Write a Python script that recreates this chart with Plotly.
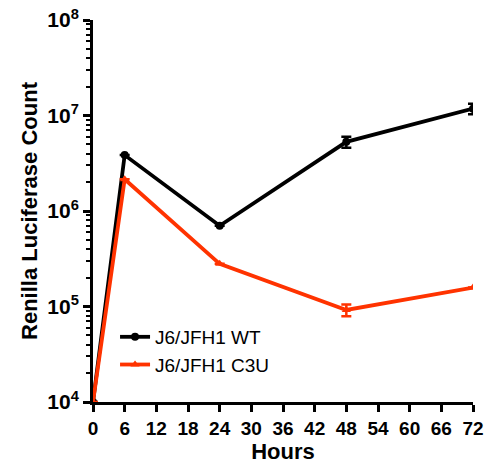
import plotly.graph_objects as go

hours = [0, 6, 24, 48, 72]
wt = [1e4, 3.85e6, 7.0e5, 5.3e6, 1.18e7]
wt_err = [0, 0, 0, 0.7e6, 1.5e6]
c3u = [1e4, 2.15e6, 2.8e5, 9.2e4, 1.58e5]
c3u_err = [0, 0, 0, 1.3e4, 0]
x_ticks = list(range(0, 73, 6))
y_tickvals = [1e4, 1e5, 1e6, 1e7, 1e8]
y_ticktext = ["10<sup>4</sup>", "10<sup>5</sup>", "10<sup>6</sup>", "10<sup>7</sup>", "10<sup>8</sup>"]
y_minor = [m * 10 ** d for d in range(4, 8) for m in range(2, 10)]

fig = go.Figure()
fig.add_trace(go.Scatter(
    x=hours, y=wt, name="J6/JFH1 WT", mode="lines+markers",
    line=dict(color="black", width=3.8),
    marker=dict(symbol="circle", size=8, color="black"),
    error_y=dict(type="data", array=wt_err, color="black", thickness=2.5, width=5),
))
fig.add_trace(go.Scatter(
    x=hours, y=c3u, name="J6/JFH1 C3U", mode="lines+markers",
    line=dict(color="#ff3300", width=3.8),
    marker=dict(symbol="triangle-up", size=8, color="#ff3300"),
    error_y=dict(type="data", array=c3u_err, color="#ff3300", thickness=2.5, width=5),
))

fig.update_layout(
    width=490, height=466,
    margin=dict(l=93, r=17, t=20, b=64),
    plot_bgcolor="white", paper_bgcolor="white",
    font=dict(family="Liberation Sans, Arial", color="black"),
    legend=dict(x=0.058, y=0.22, xanchor="left", yanchor="top",
                font=dict(size=19, color="black"), bgcolor="rgba(0,0,0,0)",
                itemwidth=30, tracegroupgap=18),
)
fig.update_xaxes(
    range=[0, 72], tickvals=x_ticks, showgrid=False, zeroline=False,
    showline=True, linecolor="black", linewidth=3, automargin=False,
    ticks="outside", ticklen=7, tickwidth=3, tickcolor="black",
    tickfont=dict(size=19, family="Liberation Sans, Arial", weight="bold"),
    title=dict(text="<b>Hours</b>", font=dict(size=22), standoff=6),
)
fig.update_yaxes(
    type="log", range=[4, 8], tickvals=y_tickvals, ticktext=y_ticktext,
    showgrid=False, zeroline=False, automargin=False,
    showline=True, linecolor="black", linewidth=3,
    ticks="outside", ticklen=7, tickwidth=3, tickcolor="black",
    tickfont=dict(size=21, family="Liberation Sans, Arial", weight="bold"),
    minor=dict(tickvals=y_minor, ticks="outside", ticklen=4, tickwidth=2,
               tickcolor="black", showgrid=False),
    title=dict(text="<b>Renilla Luciferase Count</b>", font=dict(size=22), standoff=4),
)

fig.write_html("out.html", config={"displayModeBar": False},
               post_script="document.body.style.margin='0px';")
